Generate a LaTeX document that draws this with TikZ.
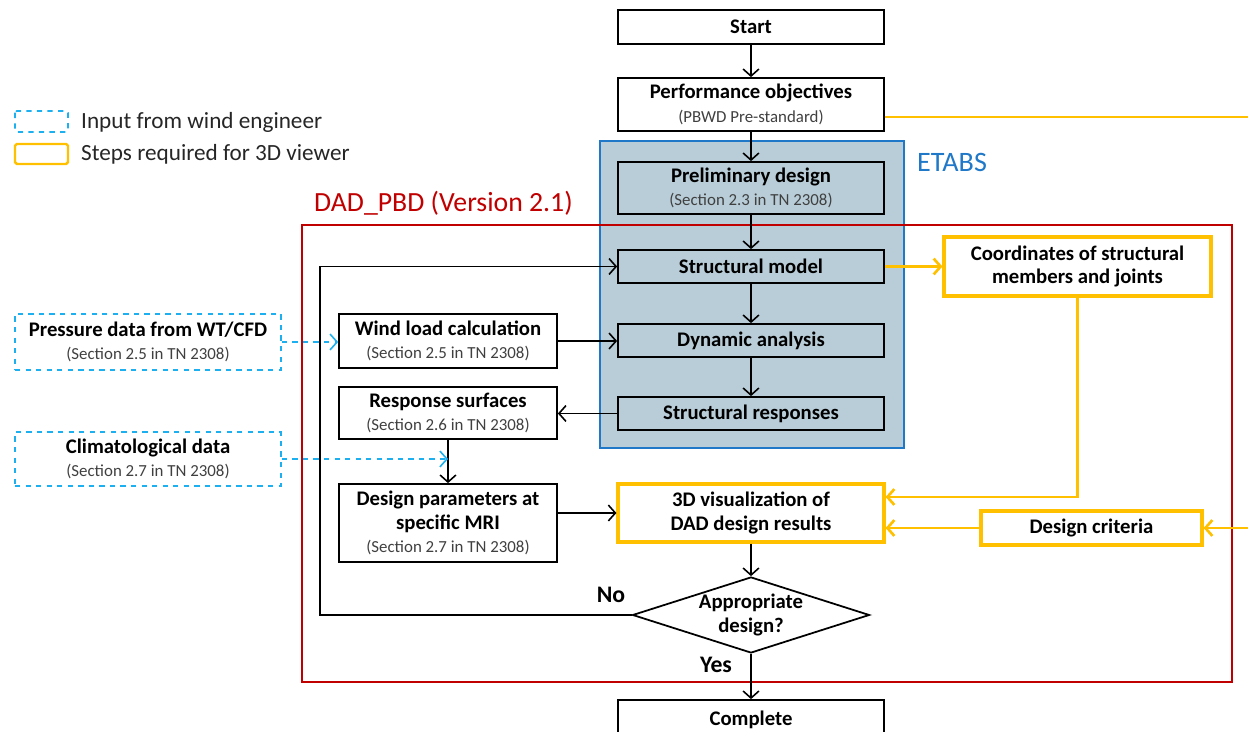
\documentclass[tikz,border=0pt]{standalone}
\usepackage{fontspec}
\setmainfont{Carlito}
\usepackage{xcolor}
\usetikzlibrary{arrows.meta, positioning, shapes.geometric, calc}

\definecolor{etabsfill}{HTML}{B8CDD8}
\definecolor{etabsblue}{HTML}{1F78C8}
\definecolor{dadred}{HTML}{C00000}
\definecolor{viewgold}{HTML}{FFC000}
\definecolor{windcyan}{HTML}{1CB0F0}
\definecolor{subgray}{HTML}{404040}

\newcommand{\sub}[1]{{\fontsize{9.6}{11}\selectfont\mdseries\color{subgray}#1}}

\begin{document}
\begin{tikzpicture}[x=0.02cm, y=-0.02cm,
  font=\fontsize{11.8}{13.5}\selectfont\bfseries,
  arr/.style={-{Straight Barb[length=4pt,width=9pt]}, line width=0.9pt},
  mainbox/.style={draw, line width=1pt, fill=white, align=center, minimum width=5.32cm, inner sep=1pt},
  sidebox/.style={mainbox, minimum width=4.36cm},
  etabsbox/.style={mainbox, fill=etabsfill},
  inputbox/.style={draw=windcyan, dashed, line width=1pt, align=center, minimum width=5.32cm, inner sep=1pt},
  viewbox/.style={draw=viewgold, line width=1.8pt, fill=white, align=center, inner sep=1pt},
  viewarr/.style={arr, draw=viewgold, line width=1.5pt},
  windarr/.style={arr, draw=windcyan, dashed}]
  \useasboundingbox (0,0) rectangle (1248,732);

  % ETABS block
  \draw[etabsblue, fill=etabsfill, line width=1.4pt] (600,141) rectangle (904,448);
  \node[etabsblue, font=\fontsize{16}{18}\selectfont, anchor=west] (etabslbl) at (911,162) {ETABS};

  % DAD_PBD block
  \draw[dadred, line width=1.2pt] (302,225) rectangle (1232,682);
  \node[dadred, font=\fontsize{15.8}{18}\selectfont, anchor=west] (dadlbl) at (308,203) {DAD\_PBD (Version 2.1)};

  % Legend
  \draw[windcyan, dashed, line width=1pt, rounded corners=1pt] (15,111) rectangle (68,132);
  \draw[viewgold, line width=1.4pt, rounded corners=1pt] (15,144) rectangle (68,164);
  \node[font=\fontsize{13.2}{15}\selectfont, text=black!85, anchor=west] (leginput) at (75,122) {Input from wind engineer};
  \node[font=\fontsize{13.2}{15}\selectfont, text=black!85, anchor=west] (legview) at (75,154) {Steps required for 3D viewer};

  % Main column
  \node[mainbox, minimum height=0.68cm] (start) at (751,27) {Start};
  \node[mainbox, minimum height=1.06cm] (perf) at (751,104.5) {Performance objectives\\\sub{(PBWD Pre-standard)}};
  \node[etabsbox, minimum height=1.04cm] (prelim) at (751,188) {Preliminary design\\\sub{(Section 2.3 in TN 2308)}};
  \node[etabsbox, minimum height=0.66cm] (smodel) at (751,266.5) {Structural model};
  \node[etabsbox, minimum height=0.66cm] (dyn) at (751,340.5) {Dynamic analysis};
  \node[etabsbox, minimum height=0.66cm] (sresp) at (751,413.5) {Structural responses};
  \node[viewbox, minimum width=5.32cm, minimum height=1.16cm] (vis) at (751,513) {3D visualization of\\DAD design results};
  \node[draw, line width=1pt, fill=white, shape=diamond, aspect=3.1, inner sep=0pt,
        minimum width=4.74cm, minimum height=1.52cm, align=center] (check) at (751,615) {Appropriate\\design?};
  \node[mainbox, minimum height=0.8cm] (done) at (751,720) {Complete};

  % Left column
  \node[sidebox, minimum height=1.08cm] (wind) at (448,341) {Wind load calculation\\\sub{(Section 2.5 in TN 2308)}};
  \node[sidebox, minimum height=1.04cm] (rsurf) at (448,413) {Response surfaces\\\sub{(Section 2.6 in TN 2308)}};
  \node[sidebox, minimum height=1.56cm] (dparam) at (448,523) {Design parameters at\\specific MRI\\\sub{(Section 2.7 in TN 2308)}};

  % Wind engineer inputs
  \node[inputbox, minimum height=1.12cm] (press) at (148,342) {Pressure data from WT/CFD\\\sub{(Section 2.5 in TN 2308)}};
  \node[inputbox, minimum height=1.08cm] (clim) at (148,459) {Climatological data\\\sub{(Section 2.7 in TN 2308)}};

  % 3D viewer inputs
  \node[viewbox, minimum width=5.34cm, minimum height=1.18cm] (coord) at (1077.5,266.5) {Coordinates of structural\\members and joints};
  \node[viewbox, minimum width=4.42cm, minimum height=0.68cm] (crit) at (1091.5,528) {Design criteria};
  \coordinate (edgetop) at (1248,117);
  \coordinate (edgebot) at (1248,528);
  \coordinate (loop) at (320,615);

  % Main flow
  \draw[arr] (start) -- (perf);
  \draw[arr] (perf) -- (prelim);
  \draw[arr] (prelim) -- (smodel);
  \draw[arr] (smodel) -- (dyn);
  \draw[arr] (dyn) -- (sresp);
  \draw[arr] (sresp.west) -- (rsurf.east |- sresp.west);
  \draw[arr] (wind.east) -- (dyn.west |- wind.east);
  \draw[arr] (rsurf) -- (dparam);
  \draw[arr] (dparam.east |- vis) -- (vis.west);
  \draw[arr] (vis) -- (check);
  \draw[arr] (check) -- (done);
  \draw[arr] (check.west) -- (loop) |- (smodel.west);
  \node[anchor=south] (nolbl) at (611,609) {\fontsize{13.5}{15}\selectfont No};
  \node[anchor=north] (yeslbl) at (716,651) {\fontsize{13.5}{15}\selectfont Yes};

  % Inputs from wind engineer
  \draw[windarr] (press.east) -- (wind.west |- press.east);
  \draw[windarr] (clim.east) -- (clim.east -| rsurf.south);

  % Steps for 3D viewer
  \draw[viewarr] (smodel.east) -- (coord.west);
  \draw[viewarr] (coord.south) |- ([yshift=0.32cm]vis.east);
  \draw[viewarr] (crit.west) -- (crit.west -| vis.east);
  \draw[viewarr] (edgebot) -- (crit.east);
  \draw[viewgold, line width=1.5pt] (perf.east |- edgetop) -- (edgetop);
\end{tikzpicture}
\end{document}
